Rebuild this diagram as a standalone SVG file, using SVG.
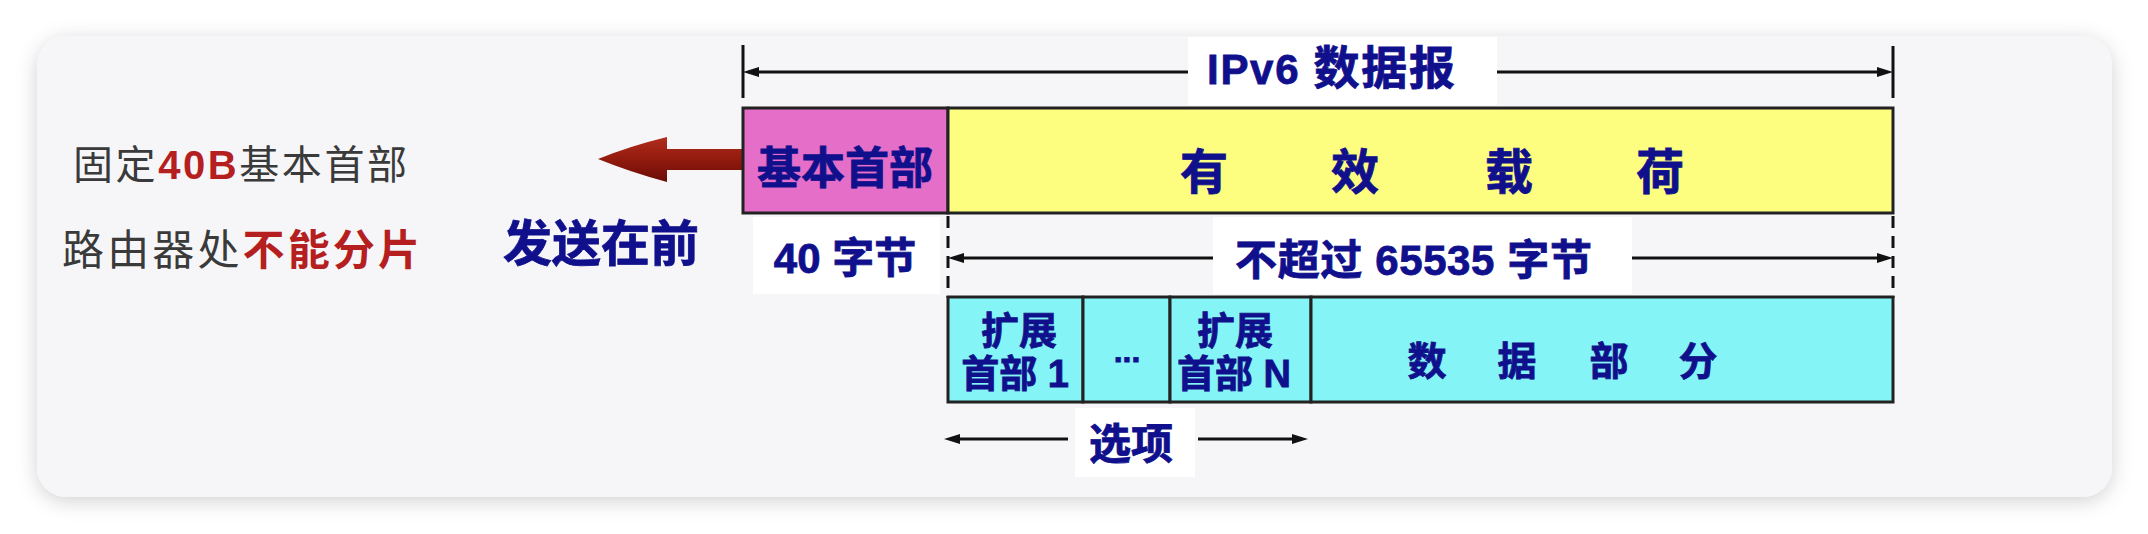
<svg xmlns="http://www.w3.org/2000/svg" width="2148" height="534" viewBox="0 0 2148 534">
  <defs>
    <style>
      .cjk { font-family: "Liberation Sans", "Noto Sans CJK SC", sans-serif; }
      .blue { fill: #10108c; font-weight: 700; stroke: #10108c; stroke-width: 0.8; }
      .note { fill: #3a3a3a; font-weight: 400; }
      .red { fill: #b51f1f; font-weight: 700; }
      .box { stroke: #222; stroke-width: 3; }
      .dim { stroke: #111; stroke-width: 3; fill: none; }
      .tick { stroke: #111; stroke-width: 3; }
      .dash { stroke: #111; stroke-width: 3; stroke-dasharray: 12 8; }
      .lblbg { fill: #ffffff; }
    </style>
    <marker id="arr" viewBox="0 0 16 10" refX="10" refY="5" markerWidth="16" markerHeight="10" markerUnits="userSpaceOnUse" orient="auto">
      <path d="M0,0 L16,5 L0,10 z" fill="#111"/>
    </marker>
    <filter id="shadow" x="-5%" y="-20%" width="110%" height="140%">
      <feDropShadow dx="0" dy="4" stdDeviation="10" flood-color="#000" flood-opacity="0.18"/>
    </filter>
    <linearGradient id="redArrow" x1="0" y1="0" x2="0" y2="1">
      <stop offset="0" stop-color="#b02e1c"/>
      <stop offset="0.5" stop-color="#921a0e"/>
      <stop offset="1" stop-color="#6a0d06"/>
    </linearGradient>
  </defs>

  <rect x="0" y="0" width="2148" height="534" fill="#ffffff"/>
  <rect id="card" x="37" y="36" width="2075" height="461" rx="30" ry="30" fill="#f6f6f8" filter="url(#shadow)"/>

  <!-- label backgrounds -->
  <g id="label-backgrounds">
    <rect class="lblbg" x="1188" y="37" width="309" height="68"/>
    <rect class="lblbg" x="753" y="217" width="187" height="77"/>
    <rect class="lblbg" x="1213" y="217" width="419" height="77"/>
    <rect class="lblbg" x="1075" y="408" width="120" height="69"/>
  </g>

  <!-- connectors -->
  <g id="connectors">
    <!-- IPv6 datagram dimension -->
    <line class="tick" x1="743" y1="45" x2="743" y2="98"/>
    <line class="tick" x1="1893" y1="46" x2="1893" y2="98"/>
    <line class="dim" x1="1188" y1="72" x2="749" y2="72" marker-end="url(#arr)"/>
    <line class="dim" x1="1497" y1="72" x2="1887" y2="72" marker-end="url(#arr)"/>
    <!-- 65535 bytes dimension -->
    <line class="dash" x1="948" y1="216" x2="948" y2="298"/>
    <line class="dash" x1="1893" y1="216" x2="1893" y2="298"/>
    <line class="dim" x1="1213" y1="258" x2="954" y2="258" marker-end="url(#arr)"/>
    <line class="dim" x1="1632" y1="258" x2="1887" y2="258" marker-end="url(#arr)"/>
    <!-- options dimension -->
    <line class="dim" x1="1068" y1="439" x2="950" y2="439" marker-end="url(#arr)"/>
    <line class="dim" x1="1198" y1="439" x2="1302" y2="439" marker-end="url(#arr)"/>
    <!-- send-first arrow -->
    <path id="send-arrow" d="M598,159 Q630,146 667,137 L667,149 L743,149 L743,170 L667,170 L667,182 Q630,172 598,159 Z" fill="url(#redArrow)"/>
  </g>

  <!-- main datagram -->
  <g id="basic-header">
    <rect class="box" x="743" y="108" width="205" height="105" fill="#e46ec8"/>
    <text class="cjk blue" x="845" y="184" font-size="44" text-anchor="middle">基本首部</text>
  </g>
  <g id="payload">
    <rect class="box" x="948" y="108" width="945" height="105" fill="#fdfd80"/>
    <text class="cjk blue" y="189" font-size="48" text-anchor="middle" x="1204 1280 1355 1432 1509 1585 1660">有 效 载 荷</text>
  </g>

  <!-- payload breakdown -->
  <g id="ext-header-1">
    <rect class="box" x="948" y="297" width="135" height="105" fill="#84f4f6"/>
    <text class="cjk blue" x="1019" y="344" font-size="38" text-anchor="middle">扩展</text>
    <text class="cjk blue" x="1015" y="387" font-size="38" text-anchor="middle">首部 1</text>
  </g>
  <g id="ext-ellipsis">
    <rect class="box" x="1083" y="297" width="87" height="105" fill="#84f4f6"/>
    <text class="cjk blue" x="1127" y="362" font-size="32" text-anchor="middle">...</text>
  </g>
  <g id="ext-header-n">
    <rect class="box" x="1170" y="297" width="141" height="105" fill="#84f4f6"/>
    <text class="cjk blue" x="1235" y="344" font-size="38" text-anchor="middle">扩展</text>
    <text class="cjk blue" x="1234" y="387" font-size="38" text-anchor="middle">首部 N</text>
  </g>
  <g id="data-part">
    <rect class="box" x="1311" y="297" width="582" height="105" fill="#84f4f6"/>
    <text class="cjk blue" y="375" font-size="39" text-anchor="middle" x="1427 1472 1517 1563 1609 1653 1698">数 据 部 分</text>
  </g>

  <!-- labels -->
  <g id="label-ipv6">
    <text class="cjk blue" x="1207" y="84" font-size="42" textLength="248" lengthAdjust="spacing">IPv6 <tspan font-size="46">数据报</tspan></text>
  </g>
  <g id="label-40-bytes">
    <text class="cjk blue" x="845" y="273" font-size="42" text-anchor="middle">40 字节</text>
  </g>
  <g id="label-65535">
    <text class="cjk blue" x="1235" y="275" font-size="42" textLength="357" lengthAdjust="spacing">不超过 65535 字节</text>
  </g>
  <g id="label-options">
    <text class="cjk blue" x="1131" y="459" font-size="42" text-anchor="middle">选项</text>
  </g>
  <g id="label-send-first">
    <text class="cjk blue" x="601" y="261" font-size="49" text-anchor="middle">发送在前</text>
  </g>

  <!-- side notes -->
  <g id="note-fixed-header">
    <text class="cjk note" x="73" y="179" font-size="40" textLength="334" lengthAdjust="spacing">固定<tspan class="red" fill="#c42a2a">40B</tspan>基本首部</text>
  </g>
  <g id="note-no-fragment">
    <text class="cjk note" x="62" y="265" font-size="42" textLength="358" lengthAdjust="spacing">路由器处<tspan class="red">不能分片</tspan></text>
  </g>
</svg>
